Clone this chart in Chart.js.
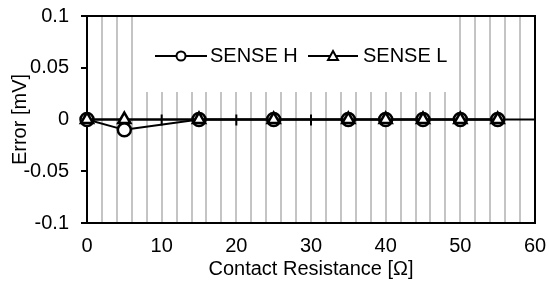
<!DOCTYPE html>
<html>
<head>
<meta charset="utf-8">
<script src="https://cdn.jsdelivr.net/npm/chart.js@4/dist/chart.umd.min.js"></script>
<style>
  html, body { margin: 0; padding: 0; background: #fff; }
  #wrap { width: 549px; height: 281px; }
</style>
</head>
<body>
<div id="wrap"><canvas id="chart" width="549" height="281"></canvas></div>
<script>
const resistance = [0, 5, 15, 25, 35, 40, 45, 50, 55];
const senseH = [0, -0.01, 0, 0, 0, 0, 0, 0, 0];
const senseL = [0, 0, 0, 0, 0, 0, 0, 0, 0];
const seriesNames = ["SENSE H", "SENSE L"];
const xLabelTicks = [0, 10, 20, 30, 40, 50, 60];
const yTicks = [-0.1, -0.05, 0, 0.05, 0.1];

const FONT = "'Liberation Sans', Arial, sans-serif";

/* ---------- frame, zero axis and legend ---------- */
const decor = {
  id: "decor",
  beforeDatasetsDraw(chart) {
    const { ctx, chartArea: a, scales: { x, y } } = chart;
    const y0 = y.getPixelForValue(0);
    ctx.save();
    // legend background hides the grid behind it
    ctx.fillStyle = "#fff";
    ctx.fillRect(140, a.top + 1, 316, 91 - a.top);
    // frame
    ctx.strokeStyle = "#000";
    ctx.lineWidth = 2;
    ctx.strokeRect(a.left, a.top, a.right - a.left, a.bottom - a.top);
    // horizontal axis at zero with crossing ticks
    ctx.lineWidth = 2;
    ctx.beginPath();
    ctx.moveTo(a.left, y0);
    ctx.lineTo(a.right, y0);
    xLabelTicks.forEach(v => {
      const px = x.getPixelForValue(v);
      ctx.moveTo(px, y0 - 5);
      ctx.lineTo(px, y0 + 6);
    });
    ctx.stroke();
    ctx.restore();
  },
  afterDatasetsDraw(chart) {
    const { ctx } = chart;
    const ly = 56;
    ctx.save();
    ctx.strokeStyle = "#000";
    ctx.lineWidth = 2;
    ctx.fillStyle = "#000";
    ctx.font = "20px " + FONT;
    ctx.textBaseline = "middle";
    // SENSE H
    ctx.beginPath();
    ctx.moveTo(155, ly); ctx.lineTo(207, ly); ctx.stroke();
    ctx.beginPath();
    ctx.arc(181, ly, 4.5, 0, Math.PI * 2);
    ctx.fillStyle = "#fff"; ctx.fill(); ctx.stroke();
    ctx.fillStyle = "#000";
    ctx.fillText(seriesNames[0], 210, ly);
    // SENSE L
    ctx.beginPath();
    ctx.moveTo(308, ly); ctx.lineTo(358, ly); ctx.stroke();
    ctx.beginPath();
    ctx.moveTo(333, ly - 5); ctx.lineTo(338, ly + 4); ctx.lineTo(328, ly + 4); ctx.closePath();
    ctx.fillStyle = "#fff"; ctx.fill(); ctx.stroke();
    ctx.fillStyle = "#000";
    ctx.fillText(seriesNames[1], 363, ly);
    ctx.restore();
  }
};

const ctx = document.getElementById("chart").getContext("2d");
new Chart(ctx, {
  type: "line",
  data: {
    datasets: [
      {
        label: seriesNames[1],
        data: resistance.map((r, i) => ({ x: r, y: senseL[i] })),
        borderColor: "#000", borderWidth: 2,
        pointStyle: "triangle", pointRadius: 7,
        pointBackgroundColor: "#fff", pointBorderColor: "#000", pointBorderWidth: 2.5,
        clip: false, order: 0
      },
      {
        label: seriesNames[0],
        data: resistance.map((r, i) => ({ x: r, y: senseH[i] })),
        borderColor: "#000", borderWidth: 2,
        pointStyle: "circle", pointRadius: 6.5,
        pointBackgroundColor: "#fff", pointBorderColor: "#000", pointBorderWidth: 2.5,
        clip: false, order: 1
      }
    ]
  },
  options: {
    responsive: false,
    animation: false,
    layout: { padding: { top: 16, right: 14, left: 0, bottom: 0 } },
    plugins: { legend: { display: false }, tooltip: { enabled: false } },
    scales: {
      x: {
        type: "linear", min: 0, max: 60,
        border: { display: false },
        grid: { color: "#c4c4c4", lineWidth: 2, drawTicks: false },
        ticks: {
          stepSize: 2, autoSkip: false, maxRotation: 0, padding: 11,
          color: "#000", font: { family: FONT, size: 20 },
          callback: v => (xLabelTicks.includes(v) ? String(v) : "")
        },
        title: {
          display: true, text: "Contact Resistance [Ω]", color: "#000",
          font: { family: FONT, size: 20, lineHeight: 1.2 }, padding: { top: 0, bottom: 0 }
        },
        afterFit(scale) {
          scale.height = 58;
          scale.paddingLeft = 0;
          scale.paddingRight = 0;
        }
      },
      y: {
        min: -0.1, max: 0.1,
        border: { display: false },
        grid: { drawOnChartArea: false, drawTicks: true, tickLength: 6, color: "#000", lineWidth: 2 },
        afterBuildTicks(scale) { scale.ticks = yTicks.map(v => ({ value: v })); },
        ticks: {
          padding: 12, color: "#000", font: { family: FONT, size: 20 },
          callback: v => String(parseFloat(v.toFixed(3)))
        },
        title: {
          display: true, text: "Error [mV]", color: "#000",
          font: { family: FONT, size: 20, lineHeight: 1.2 }, padding: { top: 8, bottom: 0 }
        },
        afterFit(scale) {
          scale.width = 87;
          scale.paddingTop = 0;
          scale.paddingBottom = 0;
        }
      }
    }
  },
  plugins: [decor]
});
</script>
</body>
</html>
